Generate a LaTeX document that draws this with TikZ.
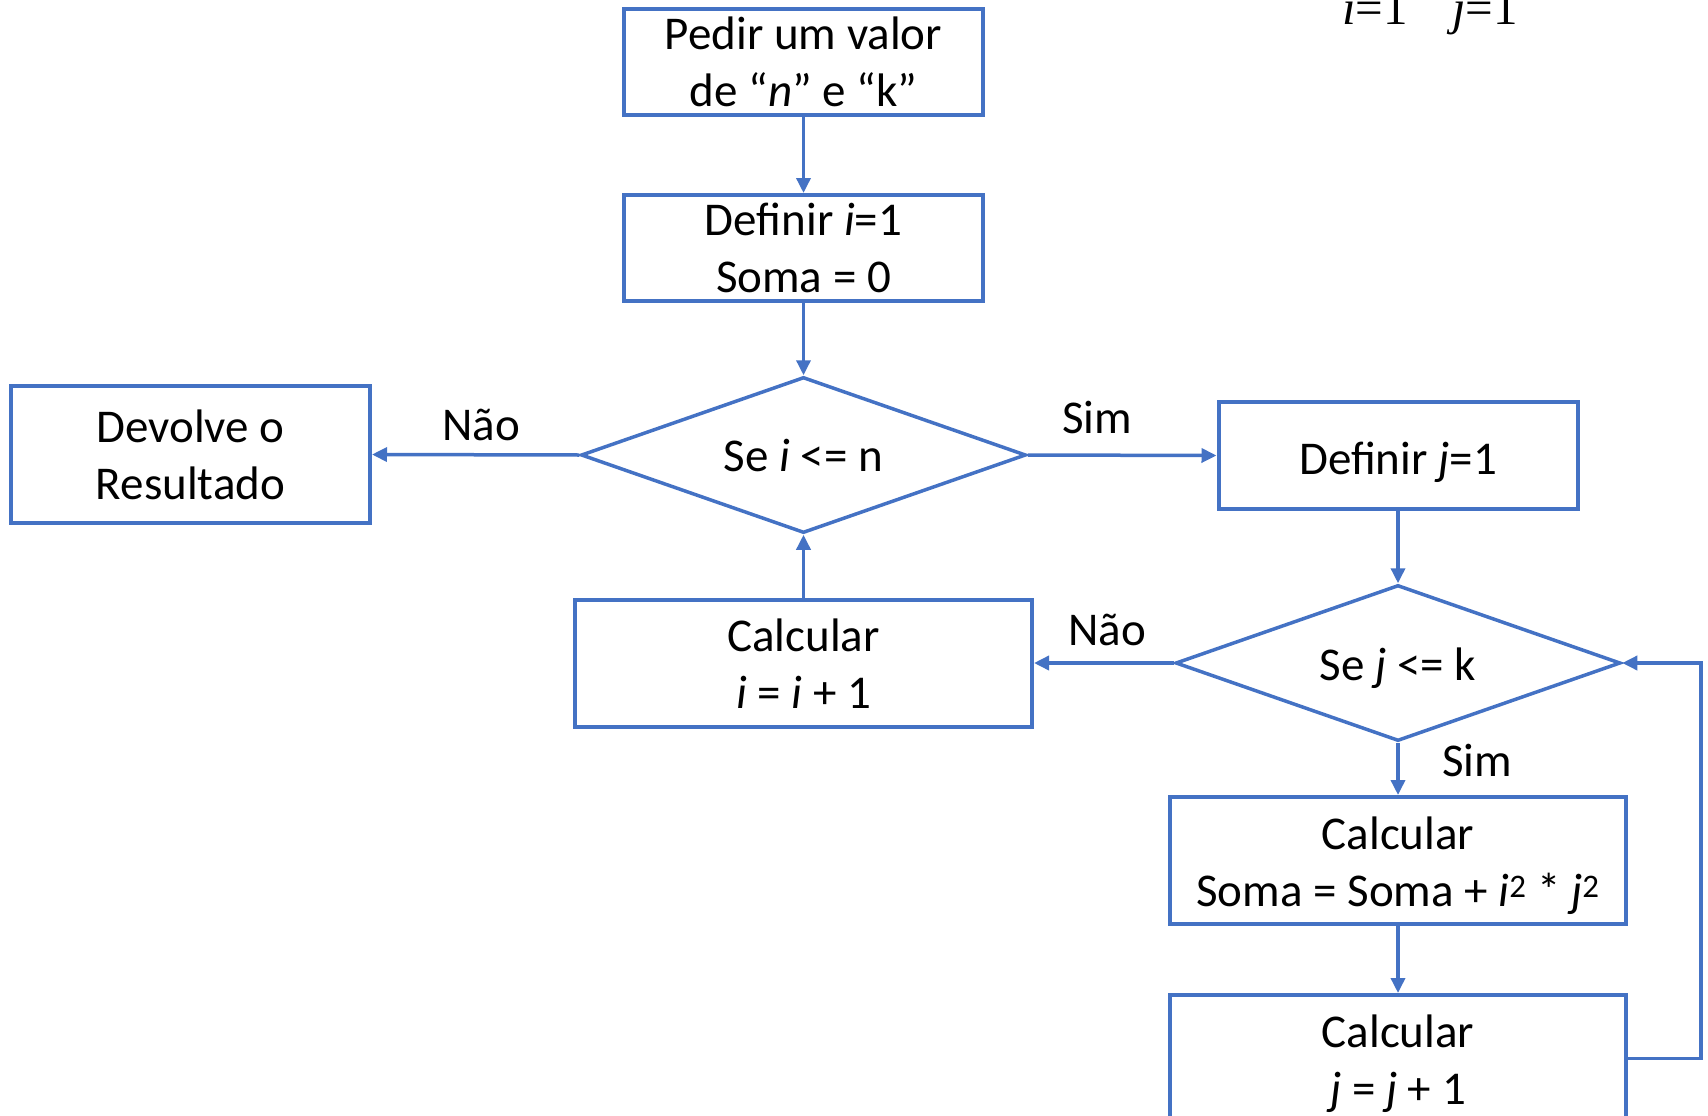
\documentclass[tikz,border=0pt]{standalone}
\usepackage{fontspec}
\setmainfont{Carlito}
\newfontfamily\eqfont{Liberation Serif}
\usetikzlibrary{shapes.geometric,arrows.meta}
\definecolor{flowblue}{HTML}{4472C4}
\begin{document}
\begin{tikzpicture}[x=1pt,y=-1pt,
  every node/.style={font=\fontsize{47}{57}\selectfont, inner sep=0pt, align=center},
  procbox/.style={draw=flowblue, line width=4pt, rectangle, minimum width=359pt, minimum height=106pt},
  widebox/.style={procbox, minimum width=456pt, minimum height=127pt},
  decision/.style={draw=flowblue, line width=3.5pt, diamond, aspect=2.85, minimum width=445pt, minimum height=156pt},
  flow/.style={draw=flowblue, line width=3.5pt, -{Triangle[length=15pt,width=14pt]}},
  tag/.style={text=black}]
\useasboundingbox (0,0) rectangle (1708,1116);
\clip (0,0) rectangle (1708,1116);

% summation limits, partly above the top edge
\node[anchor=base west, font=\eqfont\fontsize{49}{49}\selectfont] (limi) at (1342,25) {\textit{i}=1};
\node[anchor=base west, font=\eqfont\fontsize{49}{49}\selectfont] (limj) at (1452,25) {\textit{j}=1};

% main column
\node[procbox] (ask) at (803.5,62) {Pedir um valor\\de “\textit{n}” e “k”};
\node[procbox] (init) at (803.5,248) {Definir \textit{i}=1\\Soma = 0};
\node[decision] (di) at (803.5,455) {Se \textit{i} <= n};
\node[procbox, minimum height=137pt] (out) at (190.5,454.5) {Devolve o\\Resultado};
\node[widebox, minimum width=457pt] (inci) at (803.5,663.5) {Calcular\\\textit{i} = \textit{i} + 1};

% inner loop column
\node[procbox, minimum height=107pt] (initj) at (1398,455.5) {\raisebox{-6.5pt}[\height][\depth]{Definir \textit{j}=1}};
\node[decision] (dj) at (1398,663) {\raisebox{-5.5pt}[\height][\depth]{Se \textit{j} <= k}};
\node[widebox] (acc) at (1398,860.5) {\rule{0pt}{44pt}Calcular\\Soma = Soma + \textit{i}\textsuperscript{2} * \textit{j}\textsuperscript{2}};
\node[widebox] (incj) at (1398,1058.5) {\rule{0pt}{44pt}Calcular\\\textit{j} = \textit{j} + 1};

% branch labels
\node[tag] (noi) at (481,425) {Não};
\node[tag] (yesi) at (1097,417) {Sim};
\node[tag] (noj) at (1107,630) {Não};
\node[tag] (yesj) at (1477,760) {Sim};

% connectors
\draw[flow] (ask.south) -- (init.north);
\draw[flow] (init.south) -- (di.north);
\draw[flow] (di.west) -- (out.east);
\draw[flow] (di.east) -- (initj.west);
\draw[flow] (inci.north) -- (di.south);
\draw[flow] (initj.south) -- (dj.north);
\draw[flow] (dj.west) -- (inci.east |- dj.west);
\draw[flow] (dj.south) -- (acc.north);
\draw[flow] (acc.south) -- (incj.north);
\coordinate (back) at (1701,663);
\draw[flow] (incj.east) -| (back) -- (dj.east);
\end{tikzpicture}
\end{document}
